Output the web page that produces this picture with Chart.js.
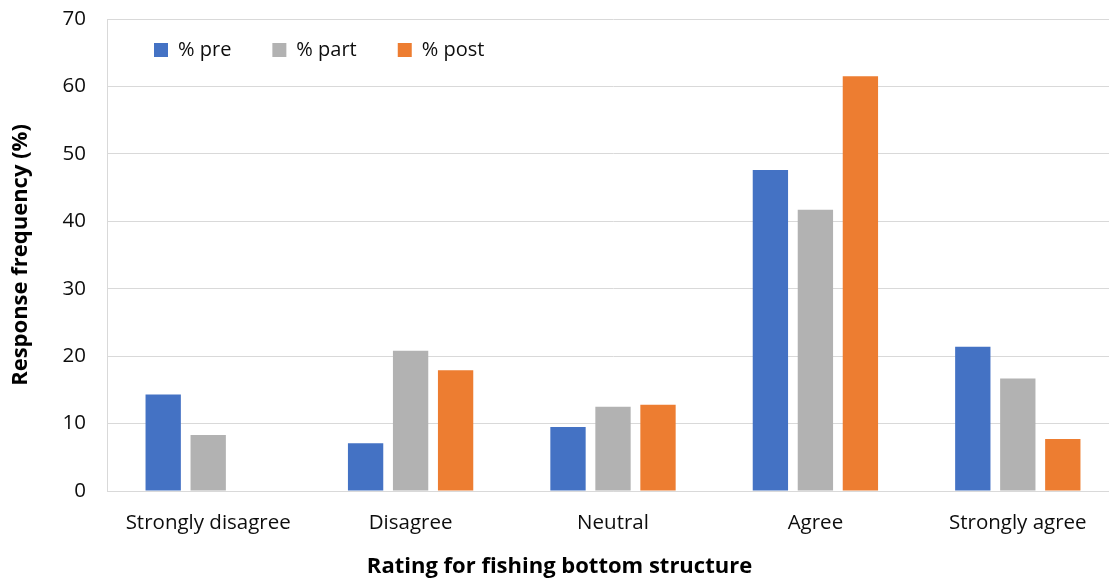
<!DOCTYPE html>
<html>
<head>
<meta charset="utf-8">
<script src="https://cdn.jsdelivr.net/npm/chart.js@4/dist/chart.umd.min.js"></script>
<style>
  html, body { margin: 0; padding: 0; background: #fff; overflow: hidden; }
  /* the picture is cropped on the right, so the canvas is a bit wider than the window */
  #wrap { width: 1119px; height: 580px; }
</style>
</head>
<body>
<div id="wrap"><canvas id="myChart" width="1119" height="580"></canvas></div>
<script>
// values
const categories = ['Strongly disagree', 'Disagree', 'Neutral', 'Agree', 'Strongly agree'];
const pre = [14.3, 7.1, 9.5, 47.6, 21.4];
const part = [8.3, 20.8, 12.5, 41.7, 16.7];
const post = [0, 17.9, 12.8, 61.5, 7.7];
const yTicks = [0, 10, 20, 30, 40, 50, 60, 70];

const gridColor = '#D9D9D9';
const textColor = '#0d0d0d';
const legendPad = 41;

// legend sits inside the plot, top left
const legendInside = {
    id: 'legendInside',
    afterLayout(chart) {
        const lg = chart.legend;
        const a = chart.chartArea;
        const w = lg.width, h = lg.height;
        lg.left = a.left + 6; lg.right = lg.left + w;
        lg.top = a.top - 20; lg.bottom = lg.top + h;
    }
};

var ctx = document.getElementById('myChart').getContext('2d');
var myChart = new Chart(ctx, {
    type: 'bar',
    data: {
        labels: categories,
        datasets: [
            { label: '% pre', data: pre, backgroundColor: '#4472C4' },
            { label: '% part', data: part, backgroundColor: '#B2B2B2' },
            { label: '% post', data: post, backgroundColor: '#ED7D31' }
        ]
    },
    options: {
        responsive: false,
        animation: false,
        categoryPercentage: 0.667,
        barPercentage: 0.785,
        // legend box takes (20 + pad + 10) px at the top, pulled back so the plot starts at 19
        layout: { padding: { top: 19 - (20 + legendPad + 10), right: 0, left: 0, bottom: 0 } },
        scales: {
            x: {
                grid: { display: false, drawTicks: false },
                border: { display: true, color: gridColor, width: 1 },
                ticks: {
                    color: textColor,
                    padding: 20,
                    font: { family: 'Open Sans', size: 20.5 },
                    maxRotation: 0
                },
                afterFit: s => { s.height = 62.6; }
            },
            y: {
                min: 0,
                max: 70,
                afterBuildTicks: s => { s.ticks = yTicks.map(v => ({ value: v })); },
                grid: {
                    color: gridColor,
                    lineWidth: 1,
                    drawTicks: true,
                    tickLength: 21,
                    tickColor: 'rgba(0,0,0,0)'
                },
                border: { display: true, color: gridColor, width: 1 },
                ticks: {
                    color: textColor,
                    padding: 0,
                    font: { family: 'Open Sans', size: 20.5 }
                },
                title: {
                    display: true,
                    text: 'Response frequency (%)',
                    color: '#000',
                    padding: { top: 8, bottom: 0 },
                    font: { family: 'Open Sans', size: 22, weight: 'bold' }
                },
                afterFit: s => { s.width = 107; }
            }
        },
        plugins: {
            legend: {
                position: 'top',
                align: 'start',
                labels: {
                    boxWidth: 14,
                    boxHeight: 14,
                    padding: legendPad,
                    color: textColor,
                    font: { family: 'Open Sans', size: 20 }
                }
            },
            title: {
                display: true,
                position: 'bottom',
                text: 'Rating for fishing bottom structure',
                color: '#000',
                padding: { top: 0, bottom: 0 },
                font: { family: 'Open Sans', size: 22, weight: 'bold' }
            },
            tooltip: { enabled: false }
        }
    },
    plugins: [legendInside]
});
</script>
</body>
</html>
